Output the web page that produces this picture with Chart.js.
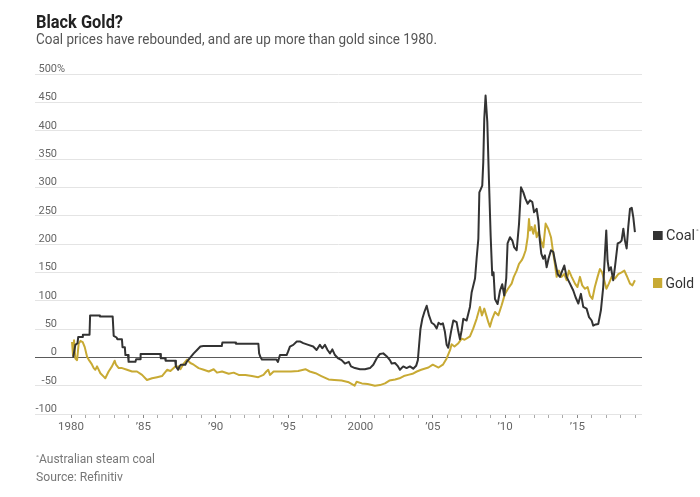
<!DOCTYPE html>
<html><head><meta charset="utf-8">
<script src="https://cdn.jsdelivr.net/npm/chart.js@4.4.1/dist/chart.umd.min.js"></script>
<style>
html,body{margin:0;padding:0;background:#fff;width:700px;height:497px;overflow:hidden;font-family:Roboto,"Noto Sans",sans-serif;}
#wrap{position:relative;width:700px;height:497px;}
canvas{position:absolute;left:0;top:0;}
.t{position:absolute;white-space:nowrap;line-height:1;transform-origin:0 0;}
.sq{display:inline-block;width:9.5px;height:9.5px;margin-right:4px;vertical-align:0px;}
</style></head><body>
<div id="wrap">
<canvas id="c" width="700" height="497"></canvas>
<div class="t" id="title" data-x="36" data-b="28" data-s="18" data-w="87" style="font-weight:700;color:#222;">Black Gold?</div>
<div class="t" id="sub" data-x="36" data-b="45" data-s="14.5" data-w="401" style="color:#555;">Coal prices have rebounded, and are up more than gold since 1980.</div>
<div class="t" id="foot" data-x="36" data-b="463.5" data-s="12" data-w="119" style="color:#777;"><span style="font-size:8px;vertical-align:3px;">°</span>Australian steam coal</div>
<div class="t" id="src" data-x="36" data-b="481" data-s="12" data-w="87" style="color:#777;">Source: Refinitiv</div>
<div class="t" id="lgC" data-x="653" data-b="240.7" data-s="15" data-w="46" style="color:#333;"><span class="sq" style="background:#333333;"></span>Coal<span style="font-size:8px;vertical-align:6px;color:#777;margin-left:1px;">°</span></div>
<div class="t" id="lgG" data-x="653" data-b="288.3" data-s="15" data-w="41" style="color:#333;"><span class="sq" style="background:#c8aa34;"></span>Gold</div>
</div>
<script>
// ---- data (percent change since 1980) ----
const coalYears = [1980.15,1980.3,1980.45,1980.5,1980.78,1980.82,1981.28,1981.32,1981.96,1982.0,1982.88,1982.95,1983.15,1983.2,1983.52,1983.56,1983.72,1983.76,1983.94,1983.98,1984.45,1984.5,1984.77,1984.81,1986.17,1986.21,1986.5,1986.54,1987.2,1987.25,1987.4,1987.5,1987.6,1987.9,1988.0,1988.25,1988.48,1988.71,1988.94,1989.15,1990.42,1990.46,1991.35,1991.4,1992.95,1993.0,1993.1,1993.2,1994.2,1994.3,1994.44,1994.9,1995.0,1995.13,1995.36,1995.6,1995.82,1996.05,1996.4,1996.74,1996.97,1997.2,1997.36,1997.55,1997.73,1997.9,1998.06,1998.24,1998.47,1998.7,1998.93,1999.2,1999.35,1999.62,1999.97,2000.31,2000.66,2000.89,2001.12,2001.35,2001.58,2001.81,2002.04,2002.16,2002.39,2002.57,2002.73,2002.96,2003.19,2003.42,2003.65,2003.85,2003.97,2004.05,2004.15,2004.28,2004.42,2004.58,2004.74,2004.92,2005.1,2005.27,2005.4,2005.57,2005.7,2005.84,2005.96,2006.07,2006.26,2006.42,2006.65,2006.77,2006.88,2007.0,2007.11,2007.34,2007.57,2007.69,2007.92,2008.03,2008.15,2008.22,2008.32,2008.42,2008.49,2008.56,2008.65,2008.77,2008.88,2009.0,2009.11,2009.2,2009.3,2009.48,2009.65,2009.8,2009.94,2010.08,2010.17,2010.34,2010.5,2010.63,2010.8,2010.96,2011.1,2011.26,2011.4,2011.56,2011.72,2011.88,2012.0,2012.18,2012.3,2012.4,2012.5,2012.63,2012.75,2012.87,2013.0,2013.17,2013.33,2013.44,2013.63,2013.79,2013.95,2014.09,2014.25,2014.48,2014.71,2014.87,2015.06,2015.24,2015.4,2015.63,2015.8,2015.98,2016.09,2016.26,2016.44,2016.62,2016.78,2016.9,2016.99,2017.08,2017.18,2017.31,2017.47,2017.59,2017.78,2017.94,2018.05,2018.17,2018.28,2018.4,2018.51,2018.63,2018.75,2018.86,2018.97];
const coalValues = [0,22,25,36,36,40,40,74,74,72,72,38,35,32,32,18,18,4,4,-8,-8,-3.5,-3.5,6,6,-1.7,-1.7,-6,-6,-16,-22,-16,-13,-13,-8,0,7,13,19,20,20,26,26,24,24,7,0,-4,-4,-8,4,4,10,19,22,28,28,25,22,19,13,22,16,22,13,7,14,4,-2,-5,-11,-8,-16,-19,-21,-21,-19,-13,-2,6,7,2,-5,-11,-10,-15,-22,-16,-19,-16,-20,-15,-5,20,50,68,80,91,74,61,58,51,61,58,60,45,22,17,45,65,62,45,32,48,68,65,89,115,139,174,209,291,297,303,344,421,462,415,315,215,145,150,103,94,118,129,109,140,201,212,206,194,189,235,300,291,280,271,277,274,256,262,241,206,183,174,180,159,174,189,186,171,147,142,153,162,142,130,118,106,95,112,89,86,71,65,56,58,59,83,124,183,224,171,153,159,136,159,201,203,206,227,206,192,230,262,264,247,221];
const goldYears = [1980.07,1980.14,1980.21,1980.3,1980.42,1980.53,1980.65,1980.81,1980.95,1981.11,1981.22,1981.41,1981.57,1981.68,1981.8,1982.03,1982.26,1982.37,1982.6,1982.83,1983.02,1983.11,1983.3,1983.53,1983.87,1984.22,1984.56,1984.91,1985.25,1985.6,1985.95,1986.29,1986.64,1986.87,1987.21,1987.44,1987.56,1987.79,1988.02,1988.25,1988.48,1988.82,1989.17,1989.52,1989.86,1990.09,1990.44,1990.9,1991.24,1991.59,1992.05,1992.5,1992.94,1993.3,1993.5,1993.63,1993.75,1994.0,1994.3,1994.8,1995.2,1995.7,1996.2,1996.5,1996.9,1997.3,1997.8,1998.2,1998.7,1999.2,1999.6,1999.74,2000.1,2000.5,2001.0,2001.35,2001.7,2002.0,2002.4,2002.7,2003.0,2003.3,2003.6,2003.9,2004.2,2004.7,2005.0,2005.4,2005.7,2005.96,2006.2,2006.3,2006.5,2006.77,2007.0,2007.2,2007.57,2007.8,2008.03,2008.26,2008.4,2008.56,2008.7,2008.84,2008.95,2009.11,2009.3,2009.53,2009.76,2009.99,2010.2,2010.45,2010.6,2010.8,2010.96,2011.14,2011.26,2011.42,2011.56,2011.65,2011.72,2011.83,2011.95,2012.06,2012.18,2012.3,2012.48,2012.64,2012.8,2012.98,2013.17,2013.33,2013.44,2013.56,2013.72,2013.9,2014.09,2014.25,2014.41,2014.6,2014.83,2015.0,2015.17,2015.33,2015.52,2015.7,2015.86,2016.03,2016.2,2016.39,2016.55,2016.7,2016.85,2017.0,2017.17,2017.36,2017.59,2017.82,2018.05,2018.24,2018.4,2018.63,2018.8,2018.97];
const goldValues = [27,4,30,-2,-5,24,29,27,18,1,-4,-11,-19,-22,-16,-28,-34,-37,-25,-16,-6,-13,-19,-19,-22,-25,-25,-31,-40,-37,-35,-33,-22,-24,-16,-16,-21,-11,-4,-10,-13,-19,-22,-25,-21,-27,-25,-29,-27,-31,-31,-33,-35,-31,-25,-22,-31,-25,-25,-25,-25,-24,-21,-25,-28,-33,-39,-40,-41,-44,-50,-43,-46,-47,-50,-49,-46,-41,-39,-37,-33,-31,-29,-25,-22,-18,-13,-18,-13,-2,13,23,19,25,33,31,37,51,68,89,74,86,74,62,54,68,80,74,92,112,121,130,142,153,165,171,177,189,212,244,224,230,218,233,212,221,206,194,236,227,212,183,165,142,153,142,147,136,153,142,130,124,142,127,121,124,109,103,124,142,156,150,136,121,130,142,139,147,150,153,144,130,127,136];
const yTickValues = [-100,-50,0,50,100,150,200,250,300,350,400,450,500];
const yTickLabels = ['-100','-50','0','50','100','150','200','250','300','350','400','450','500%'];
const xLabelYears = [1980,1985,1990,1995,2000,2005,2010,2015];
const xLabelTexts = ['1980','\u201985','\u201990','\u201995','2000','\u201905','\u201910','\u201915'];
const xTickFirst = 1980, xTickLast = 2019;

const COAL = '#333333', GOLD = '#c8aa34';

// ---- text placement ----
document.querySelectorAll('.t').forEach(el => {
  const s = +el.dataset.s;
  el.style.fontSize = s + 'px';
  el.style.left = el.dataset.x + 'px';
  el.style.top = (+el.dataset.b - 0.842 * s) + 'px';
  const w = el.getBoundingClientRect().width;
  const target = +el.dataset.w;
  if (w > 0) el.style.transform = 'scaleX(' + (target / w) + ')';
});

const toPts = (xs, ys) => xs.map((x, i) => ({x: x, y: ys[i]}));

const yLabels = {
  id: 'yLabels',
  beforeDatasetsDraw(chart) {
    const ys = chart.scales.y, ctx = chart.ctx;
    const xr = chart.chartArea.left + 22;
    ctx.save();
    ctx.font = '11px Roboto, sans-serif';
    ctx.fillStyle = '#666';
    ctx.textBaseline = 'alphabetic';
    yTickValues.forEach((v, i) => {
      const py = ys.getPixelForValue(v) - 2;
      const lab = yTickLabels[i];
      const num = lab.replace('%', '');
      ctx.textAlign = 'right';
      ctx.fillText(num, xr, py);
      if (lab.endsWith('%')) { ctx.textAlign = 'left'; ctx.fillText('%', xr, py); }
    });
    ctx.restore();
  }
};

new Chart(document.getElementById('c'), {
  type: 'line',
  data: {
    datasets: [
      {label: 'Coal', data: toPts(coalYears, coalValues), borderColor: COAL, borderWidth: 2, pointRadius: 0, tension: 0, borderJoinStyle: 'round'},
      {label: 'Gold', data: toPts(goldYears, goldValues), borderColor: GOLD, borderWidth: 2, pointRadius: 0, tension: 0, borderJoinStyle: 'round'}
    ]
  },
  options: {
    responsive: false,
    animation: false,
    devicePixelRatio: 1,
    layout: {padding: {left: 35, right: 58, top: 74, bottom: 53}},
    plugins: {legend: {display: false}, tooltip: {enabled: false}, title: {display: false}},
    scales: {
      x: {
        type: 'linear',
        min: 1977.512, max: 2019.46,
        afterBuildTicks: s => { const t = []; for (let y = xTickFirst; y <= xTickLast; y++) t.push({value: y}); s.ticks = t; },
        afterFit: s => { s.height = 30; },
        border: {display: false},
        grid: {drawOnChartArea: false, drawTicks: true, tickLength: 4,
               tickColor: c => (c.tick && xLabelYears.includes(c.tick.value)) ? '#888' : '#aaa',
               tickWidth: 1},
        ticks: {
          autoSkip: false, maxRotation: 0, minRotation: 0, padding: 2,
          color: '#666', font: {family: 'Roboto', size: 11.5},
          callback: v => { const i = xLabelYears.indexOf(v); return i >= 0 ? xLabelTexts[i] : ''; }
        }
      },
      y: {
        type: 'linear',
        min: -100, max: 500,
        afterBuildTicks: s => { s.ticks = yTickValues.map(v => ({value: v})); },
        afterFit: s => { s.width = 0; },
        border: {display: false},
        grid: {drawTicks: false, lineWidth: 1,
               color: c => (c.tick && c.tick.value === 0) ? '#5a5a5a' : '#e4e4e4'},
        ticks: {display: false}
      }
    }
  },
  plugins: [yLabels]
});
</script>
</body></html>
